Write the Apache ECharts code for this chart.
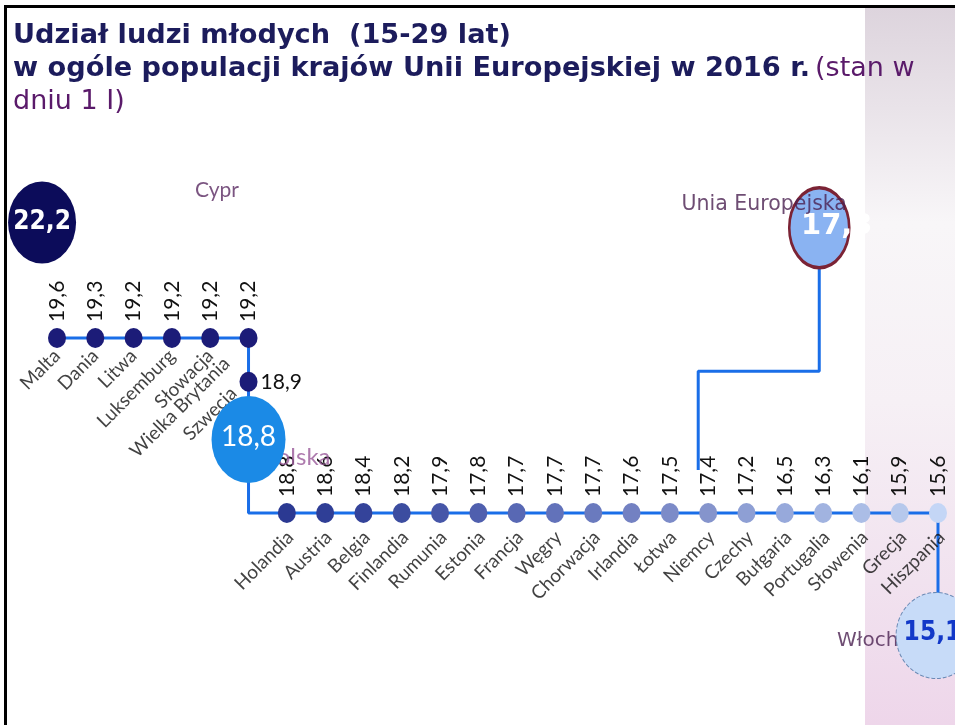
<!DOCTYPE html>
<html>
<head>
<meta charset="utf-8">
<script src="https://cdn.jsdelivr.net/npm/echarts@6/dist/echarts.min.js"></script>
<style>
html, body { margin: 0; padding: 0; background: #fff; }
#main { width: 955px; height: 725px; }
</style>
</head>
<body>
<div id="main"></div>
<script>
// udział ludzi młodych (15-29 lat), %
var row1Names = ['Malta', 'Dania', 'Litwa', 'Luksemburg', 'Słowacja', 'Wielka Brytania'];
var row1Values = [19.6, 19.3, 19.2, 19.2, 19.2, 19.2];
var stubNames = ['Szwecja'];
var stubValues = [18.9];
var row2Names = ['Holandia', 'Austria', 'Belgia', 'Finlandia', 'Rumunia', 'Estonia', 'Francja', 'Węgry',
    'Chorwacja', 'Irlandia', 'Łotwa', 'Niemcy', 'Czechy', 'Bułgaria', 'Portugalia', 'Słowenia', 'Grecja', 'Hiszpania'];
var row2Values = [18.8, 18.6, 18.4, 18.2, 17.9, 17.8, 17.7, 17.7, 17.7, 17.6, 17.5, 17.4, 17.2, 16.5, 16.3, 16.1, 15.9, 15.6];
var hubNames = ['Cypr', 'Polska', 'Unia Europejska', 'Włochy'];
var hubValues = [22.2, 18.8, 17.3, 15.1];

// layout of the "metro line": x = station slot, y = track level (0 upper row, 1 lower row)
var row2Start = row1Names.length;
var lastSlot = row2Start + row2Names.length - 1;
var hubPos = [[-0.39, -0.66], [5, 0.58], [19.9, -0.63], [lastSlot - 0.05, 1.70]];
var stubPos = [[5, 0.25]];
var euBend = [16.74, 0.19, 0.754];

var row2Colors = ['#2b3992', '#2f3e96', '#34439a', '#3c4da0', '#4656a8', '#4f5fae', '#5868b4', '#6272ba', '#6a7abe',
    '#7381c2', '#7c8bc8', '#8594cc', '#8e9fd4', '#97a9db', '#a1b3e0', '#abbde6', '#b6c8ec', '#c4d6f6'];

function fmt(v) { return v.toFixed(1).replace('.', ','); }

var LABEL_FONT = 'Lato, "Open Sans", sans-serif';
var BOLD_COND = '"DejaVu Sans Condensed", "Liberation Sans Narrow", "DejaVu Sans", sans-serif';
var PURPLE = '#5a2a62';
var NONE = 'rgba(0,0,0,0)';

var stations = [];
row1Names.forEach(function (n, i) {
    stations.push({ name: n, value: [i, 0, row1Values[i]], itemStyle: { color: '#1c1c78' },
        nameOffset: i === row1Names.length - 1 ? [-23, -8] : [-2, 2] });
});
row2Names.forEach(function (n, i) {
    stations.push({ name: n, value: [row2Start + i, 1, row2Values[i]], itemStyle: { color: row2Colors[i] },
        nameOffset: [-4, 9] });
});

var mainTrack = [hubPos[0], [hubPos[0][0], 0], [stubPos[0][0], 0], [stubPos[0][0], 1], [lastSlot, 1], [lastSlot, hubPos[3][1]]];
var euTrack = [hubPos[2], [hubPos[2][0], euBend[1]], [euBend[0], euBend[1]], [euBend[0], euBend[2]]];

var hubStyles = [
    { size: [68, 82], color: '#0c0c5a', border: '#0c0c5a', bw: 0, type: 'solid',
      label: { color: '#fff', fontFamily: BOLD_COND, fontWeight: 'bold', fontSize: 26, position: 'inside' } },
    { size: [74, 87], color: '#1b8ae6', border: '#1b8ae6', bw: 0, type: 'solid',
      label: { color: '#fff', fontFamily: LABEL_FONT, fontSize: 28, position: 'inside', offset: [0, -3] } },
    { size: [60, 80], color: '#8ab3f2', border: '#7b2335', bw: 3, type: 'solid',
      label: { color: '#fff', fontFamily: '"DejaVu Sans", sans-serif', fontWeight: 'bold', fontSize: 29,
               position: [13, 40], align: 'left', verticalAlign: 'middle' } },
    { size: [80, 86], color: '#c7dbf8', border: '#6a8ab5', bw: 1, type: 'dashed',
      label: { color: '#1238c8', fontFamily: BOLD_COND, fontWeight: 'bold', fontSize: 26,
               position: [8, 41], align: 'left', verticalAlign: 'middle' } }
];
var hubNameLabels = [
    { offset: [175, -32], align: 'center', color: PURPLE, fontFamily: LABEL_FONT, fontSize: 21 },
    { offset: [82, 18], align: 'right', color: '#9a5a9a', fontFamily: LABEL_FONT, fontSize: 24 },
    { offset: [-55, -23], align: 'center', color: '#4a2050', fontFamily: '"DejaVu Sans", sans-serif', fontSize: 20.5 },
    { offset: [-99, 5], align: 'left', color: '#4a2050', fontFamily: '"DejaVu Sans", sans-serif', fontSize: 20 }
];

var hubData = hubNames.map(function (n, i) {
    var s = hubStyles[i];
    return {
        name: n, value: [hubPos[i][0], hubPos[i][1], hubValues[i]], symbolSize: s.size,
        itemStyle: { color: s.color, opacity: 1, borderColor: s.border, borderWidth: s.bw, borderType: s.type },
        label: Object.assign({ show: true, formatter: function (p) { return fmt(p.value[2]); } }, s.label)
    };
});
var hubNameData = hubNames.map(function (n, i) {
    var l = hubNameLabels[i];
    return {
        name: n, value: [hubPos[i][0], hubPos[i][1]],
        label: Object.assign({ show: true, position: 'inside', verticalAlign: 'middle', formatter: '{b}' }, l)
    };
});

var chart = echarts.init(document.getElementById('main'));
chart.setOption({
    animation: false,
    backgroundColor: '#fff',
    title: {
        left: 8, top: 14,
        text: '{b|Udział ludzi młodych  (15-29 lat)}\n{b|w ogóle populacji krajów Unii Europejskiej w 2016 r.} {n|(stan w}\n{n|dniu 1 I)}',
        textStyle: {
            lineHeight: 33,
            rich: {
                b: { fontFamily: '"DejaVu Sans", sans-serif', fontWeight: 'bold', fontSize: 27.2, color: '#1c1c5c', lineHeight: 33 },
                n: { fontFamily: '"DejaVu Sans", sans-serif', fontWeight: 'normal', fontSize: 27, color: '#5a1a6a', lineHeight: 33 }
            }
        }
    },
    graphic: [
        {
            type: 'rect', z: -10, shape: { x: 865, y: 8, width: 90, height: 717 },
            style: { fill: new echarts.graphic.LinearGradient(0, 0, 0, 1, [
                { offset: 0, color: '#ddd4dd' }, { offset: 0.14, color: '#e9e3e9' },
                { offset: 0.3, color: '#f8f6f8' }, { offset: 0.55, color: '#f6f0f5' },
                { offset: 0.8, color: '#f1e2ef' }, { offset: 1, color: '#eed6ea' }]) }
        },
        { type: 'rect', z: 100, shape: { x: 4, y: 5, width: 951, height: 3 }, style: { fill: '#000' } },
        { type: 'rect', z: 100, shape: { x: 4, y: 5, width: 3, height: 720 }, style: { fill: '#000' } }
    ],
    grid: { left: 57, right: 17, top: 338, bottom: 212 },
    xAxis: { type: 'value', min: 0, max: lastSlot, show: false },
    yAxis: { type: 'value', min: 0, max: 1, inverse: true, show: false },
    series: [
        {
            type: 'line', data: mainTrack, symbol: 'none', clip: false, z: 1,
            lineStyle: { color: '#1a6ee8', width: 3 }
        },
        {
            type: 'line', data: euTrack, symbol: 'none', clip: false, z: 1,
            lineStyle: { color: '#1a6ee8', width: 3 }
        },
        {
            // station dots with value labels above
            type: 'scatter', symbolSize: [18, 20], clip: false, z: 3,
            data: stations.map(function (s) { return { name: s.name, value: s.value, itemStyle: s.itemStyle }; }),
            itemStyle: { opacity: 1 },
            label: {
                show: true, position: 'top', rotate: 90, align: 'left', verticalAlign: 'middle', distance: 6,
                fontFamily: LABEL_FONT, fontSize: 21, color: '#111',
                formatter: function (p) { return fmt(p.value[2]); }
            }
        },
        {
            // station names below, slanted
            type: 'scatter', symbolSize: [18, 20], clip: false, z: 3, itemStyle: { color: NONE },
            data: stations.map(function (s) { return { name: s.name, value: s.value, label: { offset: s.nameOffset } }; }),
            label: {
                show: true, position: 'bottom', rotate: 45, align: 'right', verticalAlign: 'middle', distance: 2,
                fontFamily: LABEL_FONT, fontSize: 19, color: '#111', formatter: '{b}'
            }
        },
        {
            type: 'scatter', clip: false, z: 3, symbolSize: [18, 20], itemStyle: { color: '#1c1c78', opacity: 1 },
            data: stubNames.map(function (n, i) { return { name: n, value: [stubPos[i][0], stubPos[i][1], stubValues[i]] }; }),
            label: {
                show: true, position: 'right', distance: 3, fontFamily: LABEL_FONT, fontSize: 21, color: '#111',
                formatter: function (p) { return fmt(p.value[2]); }
            }
        },
        {
            type: 'scatter', clip: false, z: 3, symbolSize: [18, 20], itemStyle: { color: NONE },
            data: stubNames.map(function (n, i) { return { name: n, value: [stubPos[i][0], stubPos[i][1]] }; }),
            label: {
                show: true, position: 'left', rotate: 45, align: 'right', verticalAlign: 'middle', distance: 6,
                offset: [-6, 6], fontFamily: LABEL_FONT, fontSize: 19, color: '#111', formatter: '{b}'
            }
        },
        {
            // hub names drawn under the circles (Polska, Włochy are partly covered)
            type: 'scatter', clip: false, z: 4, symbolSize: 1, itemStyle: { color: NONE },
            data: hubNameData.filter(function (d) { return d.name !== 'Unia Europejska'; })
        },
        {
            type: 'scatter', clip: false, z: 5, data: hubData
        },
        {
            type: 'scatter', clip: false, z: 6, symbolSize: 1, itemStyle: { color: NONE },
            data: hubNameData.filter(function (d) { return d.name === 'Unia Europejska'; })
        }
    ]
});
</script>
</body>
</html>
